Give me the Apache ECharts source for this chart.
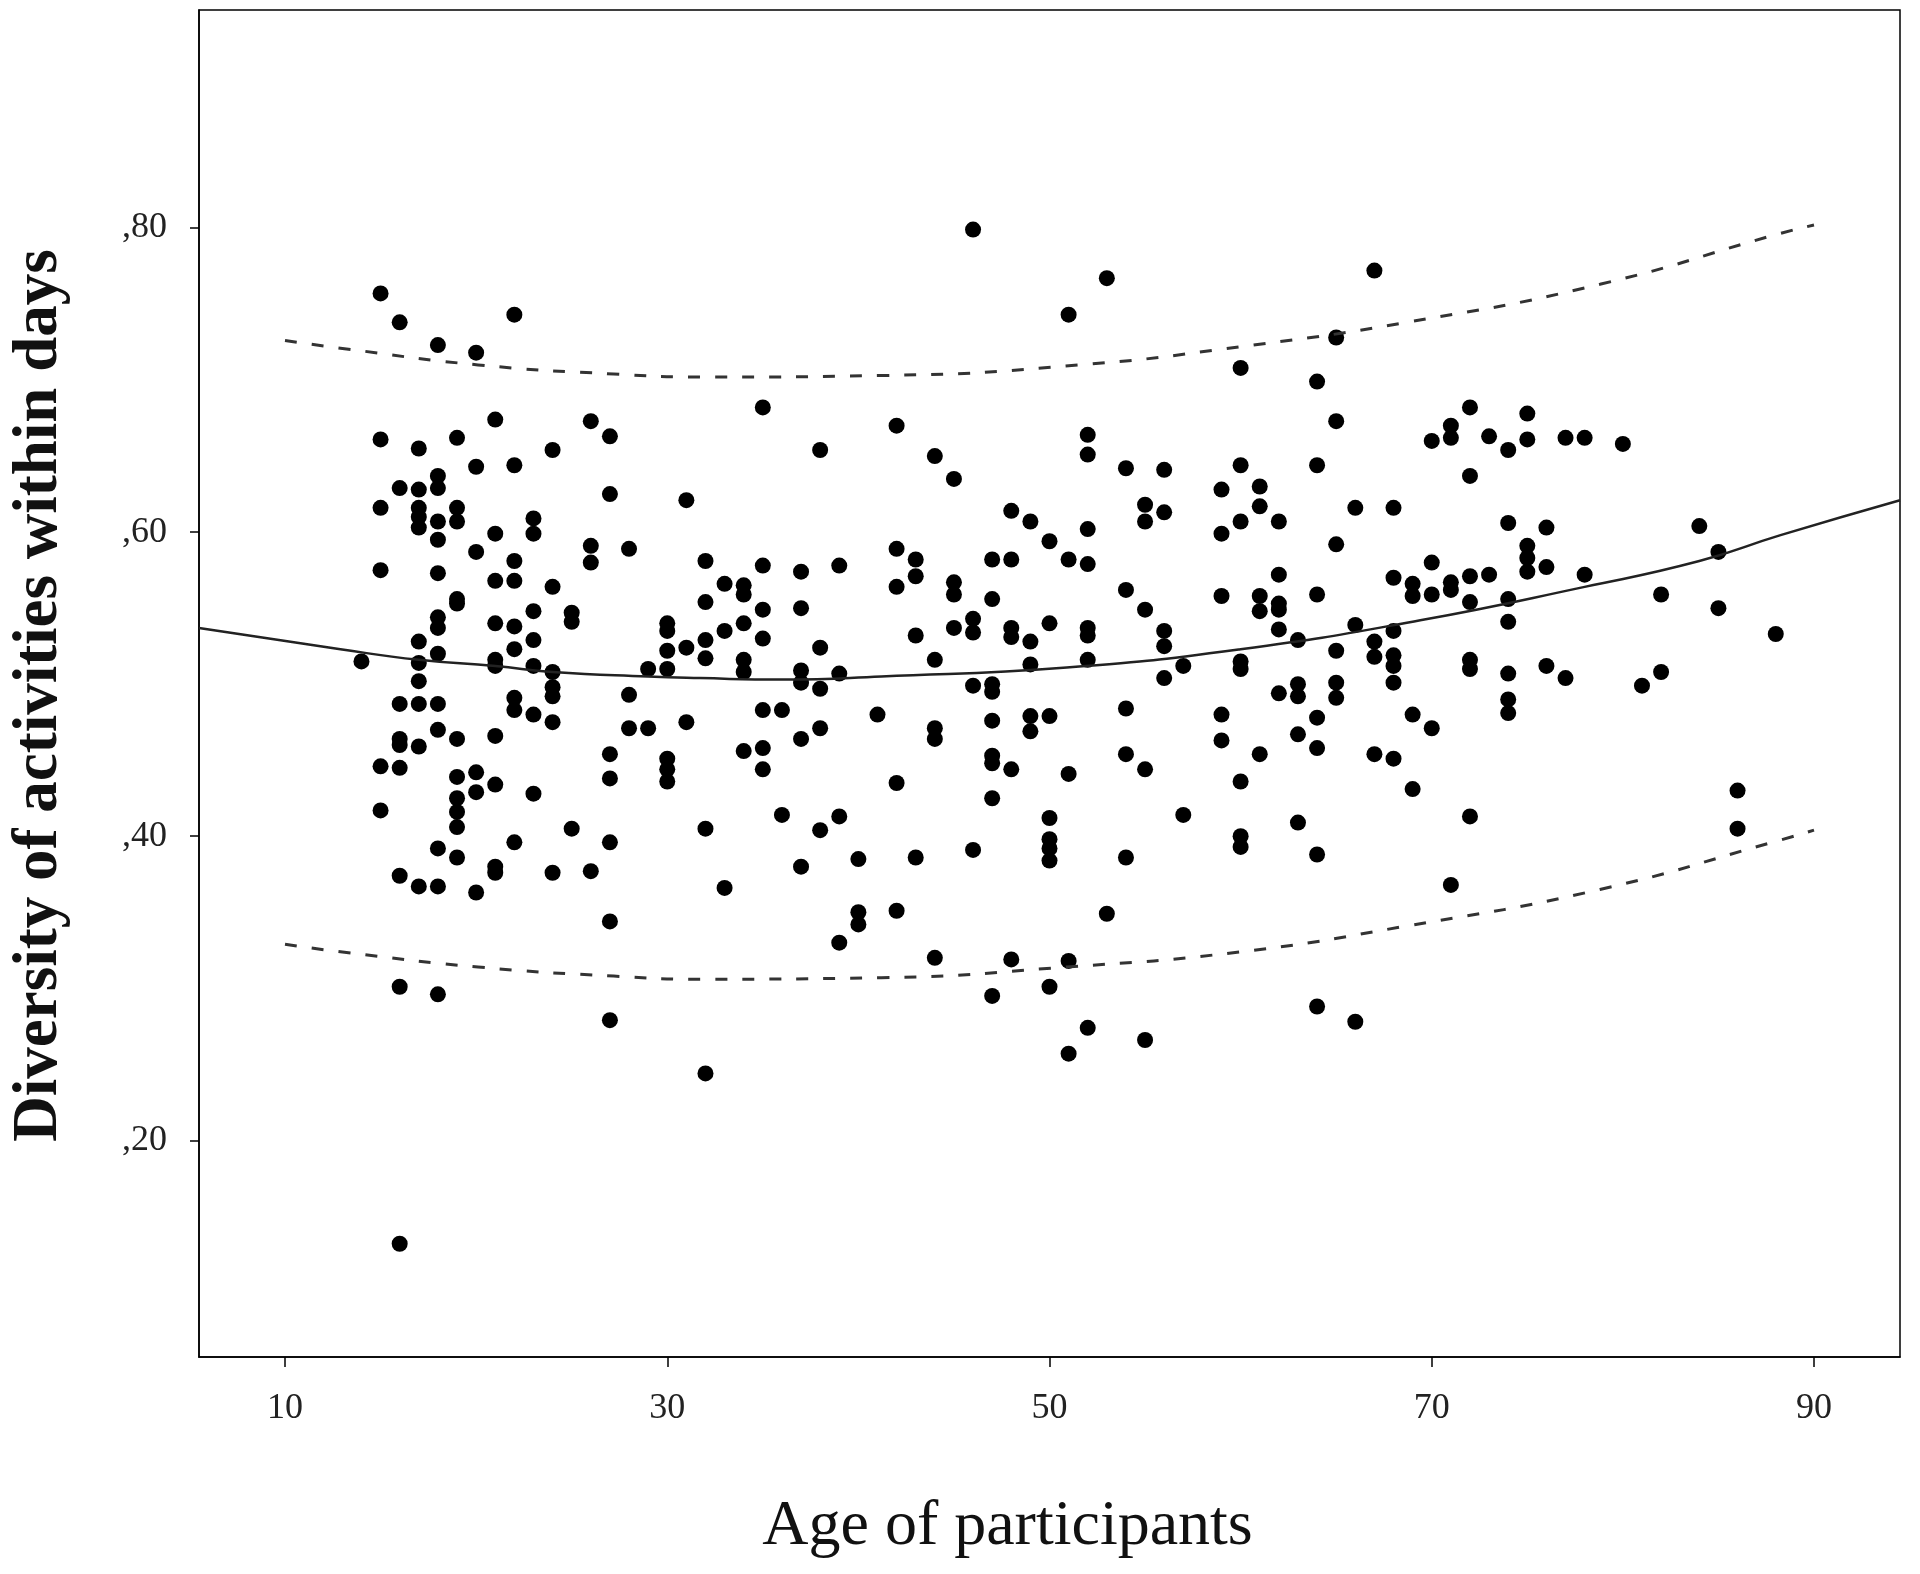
<!DOCTYPE html>
<html>
<head>
<meta charset="utf-8">
<script src="https://cdn.jsdelivr.net/npm/echarts/dist/echarts.min.js"></script>
<style>
html,body{margin:0;padding:0;background:#fff;}
#chart{width:1920px;height:1574px;}
</style>
</head>
<body>
<div id="chart"></div>
<script>
// Ages (x) and the diversity values observed at each age (y)
const ages = [14,15,16,17,18,19,20,21,22,23,24,25,26,27,28,29,30,31,32,33,34,35,36,37,38,39,40,41,42,43,44,45,46,47,48,49,50,51,52,53,54,55,56,57,59,60,61,62,63,64,65,66,67,68,69,70,71,72,73,74,75,76,77,78,80,81,82,84,85,86,88];
const valuesByAge = [
  [0.515],
  [0.757,0.661,0.616,0.575,0.446,0.417],
  [0.738,0.629,0.487,0.464,0.460,0.445,0.374,0.301,0.132],
  [0.655,0.628,0.616,0.610,0.603,0.528,0.514,0.502,0.487,0.459,0.367],
  [0.723,0.637,0.629,0.607,0.595,0.573,0.544,0.537,0.520,0.487,0.470,0.392,0.367,0.296],
  [0.662,0.616,0.607,0.556,0.553,0.464,0.439,0.425,0.416,0.406,0.386],
  [0.718,0.643,0.587,0.442,0.429,0.363],
  [0.674,0.599,0.568,0.540,0.516,0.512,0.466,0.434,0.380,0.376],
  [0.743,0.644,0.581,0.568,0.538,0.523,0.491,0.483,0.396],
  [0.609,0.599,0.548,0.529,0.512,0.480,0.428],
  [0.654,0.564,0.508,0.498,0.492,0.475,0.376],
  [0.547,0.541,0.405],
  [0.673,0.591,0.580,0.377],
  [0.663,0.625,0.454,0.438,0.396,0.344,0.279],
  [0.589,0.493,0.471],
  [0.510,0.471],
  [0.540,0.535,0.522,0.510,0.451,0.444,0.436],
  [0.621,0.524,0.475],
  [0.581,0.554,0.529,0.517,0.405,0.244],
  [0.566,0.535,0.366],
  [0.565,0.559,0.540,0.516,0.508,0.456],
  [0.682,0.578,0.549,0.530,0.483,0.458,0.444],
  [0.483,0.414],
  [0.574,0.550,0.509,0.501,0.464,0.380],
  [0.654,0.524,0.497,0.471,0.404],
  [0.578,0.507,0.413,0.330],
  [0.385,0.350,0.342],
  [0.480],
  [0.670,0.589,0.564,0.435,0.351],
  [0.582,0.571,0.532,0.386],
  [0.650,0.516,0.471,0.464,0.320],
  [0.635,0.567,0.559,0.537],
  [0.799,0.543,0.534,0.499,0.391],
  [0.582,0.556,0.500,0.495,0.476,0.453,0.448,0.425,0.295],
  [0.614,0.582,0.537,0.531,0.444,0.319],
  [0.607,0.528,0.513,0.479,0.469],
  [0.594,0.540,0.479,0.412,0.398,0.392,0.384,0.301],
  [0.743,0.582,0.441,0.318,0.257],
  [0.664,0.651,0.602,0.579,0.537,0.532,0.516,0.274],
  [0.767,0.349],
  [0.642,0.562,0.484,0.454,0.386],
  [0.618,0.607,0.549,0.444,0.266],
  [0.641,0.613,0.535,0.525,0.504],
  [0.512,0.414],
  [0.628,0.599,0.558,0.480,0.463],
  [0.708,0.644,0.607,0.515,0.510,0.436,0.400,0.393],
  [0.630,0.617,0.558,0.548,0.454],
  [0.607,0.572,0.553,0.549,0.536,0.494],
  [0.529,0.500,0.492,0.467,0.409],
  [0.699,0.644,0.559,0.478,0.458,0.388,0.288],
  [0.728,0.673,0.592,0.522,0.501,0.491],
  [0.616,0.539,0.278],
  [0.772,0.528,0.518,0.454],
  [0.616,0.570,0.535,0.519,0.512,0.501,0.451],
  [0.566,0.558,0.480,0.431],
  [0.660,0.580,0.559,0.471],
  [0.670,0.662,0.567,0.562,0.368],
  [0.682,0.637,0.571,0.554,0.516,0.510,0.413],
  [0.663,0.572],
  [0.654,0.606,0.556,0.541,0.507,0.490,0.481],
  [0.678,0.661,0.591,0.583,0.574],
  [0.603,0.577,0.512],
  [0.662,0.504],
  [0.662,0.572],
  [0.658],
  [0.499],
  [0.559,0.508],
  [0.604],
  [0.587,0.550],
  [0.430,0.405],
  [0.533]
];

// Fitted quadratic curve (solid)
const fitX = [5.5, 12.9, 17, 21, 24, 29, 31.7, 36, 41.2, 50.9, 60, 69.4, 78, 84, 88.25, 94.5];
const fitY = [0.537, 0.523, 0.516, 0.512, 0.508, 0.505, 0.504, 0.503, 0.505, 0.511, 0.523, 0.542, 0.564, 0.581, 0.598, 0.621];
// Upper and lower prediction bounds (dashed)
const upperX = [10, 12.9, 20.1, 27.2, 31.8, 41.2, 51.6, 60, 68.7, 78.8, 88.1, 90];
const upperY = [0.726, 0.721, 0.710, 0.704, 0.702, 0.703, 0.710, 0.722, 0.738, 0.763, 0.796, 0.802];
const lowerX = [10, 12.9, 20.1, 27.2, 31.8, 41.2, 50.9, 60, 68.7, 78.8, 88.1, 90];
const lowerY = [0.329, 0.324, 0.314, 0.308, 0.306, 0.307, 0.314, 0.324, 0.341, 0.365, 0.397, 0.404];

// Axis tick values
const xTicks = [10, 30, 50, 70, 90];
const yTicks = [0.2, 0.4, 0.6, 0.8];

const points = [];
ages.forEach((a, i) => valuesByAge[i].forEach(v => points.push([a, v])));
const zip = (xs, ys) => xs.map((x, i) => [x, ys[i]]);

const serif = "'Liberation Serif', 'Times New Roman', serif";
const chart = echarts.init(document.getElementById('chart'));
chart.setOption({
  backgroundColor: '#fff',
  animation: false,
  grid: {
    left: 198, right: 20, top: 10, bottom: 217,
    show: true, borderColor: '#000', borderWidth: 1.5, backgroundColor: 'transparent'
  },
  xAxis: {
    type: 'value', min: 5.5, max: 94.5,
    axisLine: { show: true, onZero: false, lineStyle: { color: '#000', width: 1.5 } },
    axisTick: { show: true, length: 10, customValues: xTicks, lineStyle: { color: '#000', width: 1.5 } },
    axisLabel: { customValues: xTicks, fontFamily: serif, fontSize: 36, color: '#222', margin: 34 },
    splitLine: { show: false },
    name: 'Age of participants', nameLocation: 'middle', nameGap: 138,
    nameTextStyle: { fontFamily: serif, fontSize: 64, color: '#111', padding: [0, 84, 0, 0] }
  },
  yAxis: {
    type: 'value', min: 0.0575, max: 0.9434,
    axisLine: { show: true, onZero: false, lineStyle: { color: '#000', width: 1.5 } },
    axisTick: { show: true, length: 9, customValues: yTicks, lineStyle: { color: '#000', width: 1.5 } },
    axisLabel: {
      customValues: yTicks, fontFamily: serif, fontSize: 36, color: '#222', margin: 32,
      formatter: v => ',' + Math.round(v * 100)
    },
    splitLine: { show: false },
    name: 'Diversity of activities within days', nameLocation: 'middle', nameGap: 128, nameRotate: 90,
    nameTextStyle: { fontFamily: serif, fontSize: 63, fontWeight: 'bold', color: '#111', padding: [0, 24, 0, 0] }
  },
  series: [
    { type: 'line', data: zip(fitX, fitY), smooth: true, showSymbol: false, silent: true,
      lineStyle: { color: '#222', width: 2.5 } },
    { type: 'line', data: zip(upperX, upperY), smooth: true, showSymbol: false, silent: true,
      lineStyle: { color: '#333', width: 3, type: [12, 15] } },
    { type: 'line', data: zip(lowerX, lowerY), smooth: true, showSymbol: false, silent: true,
      lineStyle: { color: '#333', width: 3, type: [12, 15] } },
    { type: 'scatter', data: points, symbol: 'circle', symbolSize: 16,
      itemStyle: { color: '#000', opacity: 1 } }
  ]
});
</script>
</body>
</html>
